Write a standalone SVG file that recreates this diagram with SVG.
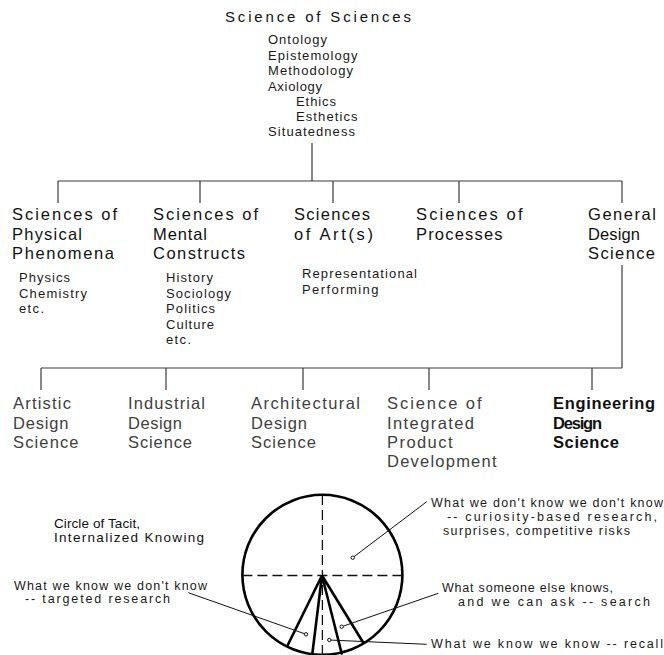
<svg xmlns="http://www.w3.org/2000/svg" width="664" height="655" viewBox="0 0 664 655">
  <style>
    text { font-family: "Liberation Sans", Arial, sans-serif; fill: #1a1a1a; }
    .title { font-size: 15px; fill: #111; }
    .list { font-size: 13px; }
    .head { font-size: 16.5px; fill: #111; }
    .sub { font-size: 13px; }
    .leaf { font-size: 16.5px; fill: #404040; }
    .bold { font-weight: bold; fill: #111; }
    .cap { font-size: 13.5px; fill: #111; }
    .note { font-size: 12.5px; }
    .tree { stroke: #3a3a3a; stroke-width: 1.2; fill: none; }
    .rim { stroke: #000; stroke-width: 2.6; fill: none; }
    .axis { stroke: #111; stroke-width: 1.3; stroke-dasharray: 10 5; fill: none; }
    .wedge { stroke: #000; stroke-width: 2.6; fill: none; stroke-linecap: round; }
    .leader { stroke: #111; stroke-width: 1; fill: none; }
    .dot { fill: #fff; stroke: #111; stroke-width: 1; }
  </style>

  <!-- tree connectors -->
  <g id="connectors" class="tree">
    <path d="M312 143 V181"/>
    <path d="M58 181 H622"/>
    <path d="M58 181 V203 M200 181 V203 M333 181 V203 M459 181 V203 M622 181 V203"/>
    <path d="M622 265 V368"/>
    <path d="M41 368 H622"/>
    <path d="M41 368 V390 M166 368 V390 M303 368 V390 M429 368 V390 M592 368 V390"/>
  </g>

  <!-- root -->
  <g id="science-of-sciences">
    <text class="title" x="225" y="22" textLength="186" lengthAdjust="spacing">Science of Sciences</text>
    <text class="list" x="268" y="44" textLength="59" lengthAdjust="spacing">Ontology</text>
    <text class="list" x="268" y="59.5" textLength="89.5" lengthAdjust="spacing">Epistemology</text>
    <text class="list" x="268" y="75" textLength="85" lengthAdjust="spacing">Methodology</text>
    <text class="list" x="268" y="90.5" textLength="54" lengthAdjust="spacing">Axiology</text>
    <text class="list" x="296" y="106" textLength="40" lengthAdjust="spacing">Ethics</text>
    <text class="list" x="296" y="121" textLength="61.5" lengthAdjust="spacing">Esthetics</text>
    <text class="list" x="268" y="136" textLength="87" lengthAdjust="spacing">Situatedness</text>
  </g>

  <!-- second level -->
  <g id="physical-phenomena">
    <text class="head" x="12" y="219.5" textLength="105" lengthAdjust="spacing">Sciences of</text>
    <text class="head" x="12" y="239.5" textLength="70" lengthAdjust="spacing">Physical</text>
    <text class="head" x="12" y="259.3" textLength="102" lengthAdjust="spacing">Phenomena</text>
    <text class="sub" x="19" y="282" textLength="51" lengthAdjust="spacing">Physics</text>
    <text class="sub" x="19" y="297.5" textLength="68" lengthAdjust="spacing">Chemistry</text>
    <text class="sub" x="19" y="313" textLength="25" lengthAdjust="spacing">etc.</text>
  </g>

  <g id="mental-constructs">
    <text class="head" x="153" y="219.5" textLength="105" lengthAdjust="spacing">Sciences of</text>
    <text class="head" x="153" y="239.5" textLength="54" lengthAdjust="spacing">Mental</text>
    <text class="head" x="153" y="259.3" textLength="92" lengthAdjust="spacing">Constructs</text>
    <text class="sub" x="166" y="282" textLength="47" lengthAdjust="spacing">History</text>
    <text class="sub" x="166" y="297.5" textLength="65" lengthAdjust="spacing">Sociology</text>
    <text class="sub" x="166" y="313" textLength="49" lengthAdjust="spacing">Politics</text>
    <text class="sub" x="166" y="328.5" textLength="48" lengthAdjust="spacing">Culture</text>
    <text class="sub" x="166" y="344" textLength="25" lengthAdjust="spacing">etc.</text>
  </g>

  <g id="arts">
    <text class="head" x="294" y="219.5" textLength="76" lengthAdjust="spacing">Sciences</text>
    <text class="head" x="294" y="239.5" textLength="79" lengthAdjust="spacing">of Art(s)</text>
    <text class="sub" x="302" y="278" textLength="115" lengthAdjust="spacing">Representational</text>
    <text class="sub" x="302" y="294" textLength="76.5" lengthAdjust="spacing">Performing</text>
  </g>

  <g id="processes">
    <text class="head" x="416" y="219.5" textLength="106.5" lengthAdjust="spacing">Sciences of</text>
    <text class="head" x="416" y="239.5" textLength="86.5" lengthAdjust="spacing">Processes</text>
  </g>

  <g id="general-design-science">
    <text class="head" x="588" y="219.5" textLength="68" lengthAdjust="spacing">General</text>
    <text class="head" x="588" y="239.5" textLength="52" lengthAdjust="spacing">Design</text>
    <text class="head" x="588" y="259.3" textLength="67" lengthAdjust="spacing">Science</text>
  </g>

  <!-- third level -->
  <g id="artistic-design">
    <text class="leaf" x="13" y="409.3" textLength="58" lengthAdjust="spacing">Artistic</text>
    <text class="leaf" x="13" y="428.7" textLength="55.5" lengthAdjust="spacing">Design</text>
    <text class="leaf" x="13" y="448" textLength="65.5" lengthAdjust="spacing">Science</text>
  </g>

  <g id="industrial-design">
    <text class="leaf" x="128" y="409.3" textLength="77" lengthAdjust="spacing">Industrial</text>
    <text class="leaf" x="128" y="428.7" textLength="54" lengthAdjust="spacing">Design</text>
    <text class="leaf" x="128" y="448" textLength="64" lengthAdjust="spacing">Science</text>
  </g>

  <g id="architectural-design">
    <text class="leaf" x="251" y="409.3" textLength="109" lengthAdjust="spacing">Architectural</text>
    <text class="leaf" x="251" y="428.7" textLength="56" lengthAdjust="spacing">Design</text>
    <text class="leaf" x="251" y="448" textLength="65" lengthAdjust="spacing">Science</text>
  </g>

  <g id="integrated-product-development">
    <text class="leaf" x="387" y="409.3" textLength="94.5" lengthAdjust="spacing">Science of</text>
    <text class="leaf" x="387" y="428.7" textLength="87" lengthAdjust="spacing">Integrated</text>
    <text class="leaf" x="387" y="448" textLength="65.5" lengthAdjust="spacing">Product</text>
    <text class="leaf" x="387" y="467.3" textLength="109.5" lengthAdjust="spacing">Development</text>
  </g>

  <g id="engineering-design">
    <text class="leaf bold" x="553" y="409.3" textLength="102" lengthAdjust="spacing">Engineering</text>
    <text class="leaf bold" x="553" y="428.7" textLength="49" lengthAdjust="spacing">Design</text>
    <text class="leaf bold" x="553" y="448" textLength="66" lengthAdjust="spacing">Science</text>
  </g>

  <!-- circle of tacit knowing -->
  <g id="tacit-circle">
    <text class="cap" x="54" y="527.5" textLength="86" lengthAdjust="spacing">Circle of Tacit,</text>
    <text class="cap" x="54" y="541.5" textLength="150" lengthAdjust="spacing">Internalized Knowing</text>

    <circle class="rim" cx="322.4" cy="574.8" r="80"/>
    <path class="axis" d="M322.4 495 V655 M242.4 575.5 H402.4"/>
    <path class="wedge" d="M287.3 646 L322 575.5 L312.3 654 M341.7 653.5 L322 575.5 L363.3 642.7"/>

    <path class="leader" d="M188.3 592.7 L304.4 633.7"/>
    <circle class="dot" cx="306" cy="634.3" r="1.7"/>
    <text class="note" x="14" y="590" textLength="193" lengthAdjust="spacing">What we know we don't know</text>
    <text class="note" x="25" y="603" textLength="145" lengthAdjust="spacing">-- targeted research</text>

    <path class="leader" d="M354 556.7 L426.7 501.7"/>
    <circle class="dot" cx="352.7" cy="557.7" r="1.7"/>
    <text class="note" x="431" y="507" textLength="232" lengthAdjust="spacing">What we don't know we don't know</text>
    <text class="note" x="447" y="521" textLength="210" lengthAdjust="spacing">-- curiosity-based research,</text>
    <text class="note" x="443" y="535" textLength="187" lengthAdjust="spacing">surprises, competitive risks</text>

    <path class="leader" d="M343.3 626.1 L438.3 593.3"/>
    <circle class="dot" cx="341.7" cy="626.7" r="1.7"/>
    <text class="note" x="442" y="592" textLength="171" lengthAdjust="spacing">What someone else knows,</text>
    <text class="note" x="458" y="605.5" textLength="192" lengthAdjust="spacing">and we can ask -- search</text>

    <path class="leader" d="M331 640.1 L426.7 644.3"/>
    <circle class="dot" cx="329.3" cy="640" r="1.7"/>
    <text class="note" x="431" y="647.5" textLength="232" lengthAdjust="spacing">What we know we know -- recall</text>
  </g>
</svg>
